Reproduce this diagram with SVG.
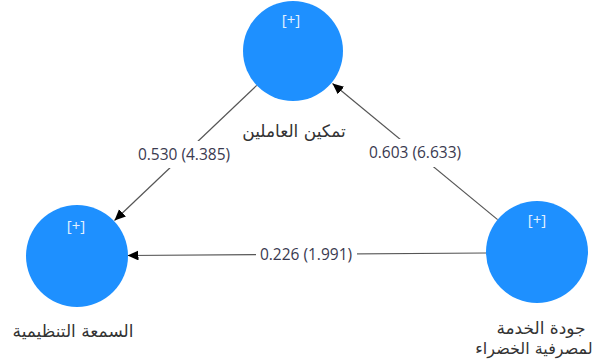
<svg xmlns="http://www.w3.org/2000/svg" width="595" height="362" viewBox="0 0 595 362">
<style>
.node{fill:#1e90ff;}
.plus{font-family:"Open Sans","DejaVu Sans",sans-serif;font-size:15px;fill:#e2f0ff;text-anchor:middle;}
.lbl{font-family:"DejaVu Sans",sans-serif;font-size:17px;fill:#333;text-anchor:middle;direction:rtl;}
.edge{stroke:#555;stroke-width:1.2;fill:none;marker-end:url(#ah);}
.elbl{font-family:"Open Sans","Liberation Sans",sans-serif;font-size:15.5px;fill:#3a3a50;text-anchor:middle;}
.bg{fill:#fff;}
</style>
<defs>
<marker id="ah" markerUnits="userSpaceOnUse" markerWidth="12" markerHeight="12" refX="11" refY="5" orient="auto">
<path d="M0,0 L11,5 L0,10 z" fill="#000"/>
</marker>
</defs>
<rect width="595" height="362" fill="#fff"/>
<g id="connectors">
<g id="e1">
<line class="edge" x1="256.7" y1="85.4" x2="114.5" y2="220.5"/>
<rect class="bg" x="135" y="141" width="98" height="27"/>
<text class="elbl" x="184" y="159.5">0.530 (4.385)</text>
</g>
<g id="e2">
<line class="edge" x1="497.6" y1="219.6" x2="332.5" y2="83.5"/>
<rect class="bg" x="365" y="139" width="99" height="28"/>
<text class="elbl" x="415" y="158">0.603 (6.633)</text>
</g>
<g id="e3">
<line class="edge" x1="486" y1="253" x2="127.5" y2="255.5"/>
<rect class="bg" x="256" y="244" width="101" height="22"/>
<text class="elbl" x="306" y="260">0.226 (1.991)</text>
</g>
</g>
<g id="node-top">
<circle class="node" cx="293" cy="51" r="50"/>
<text class="plus" x="291" y="25">[+]</text>
<text class="lbl" x="294" y="137">تمكين العاملين</text>
</g>
<g id="node-left">
<circle class="node" cx="77" cy="256" r="51"/>
<text class="plus" x="76" y="231">[+]</text>
<text class="lbl" x="73" y="337">السمعة التنظيمية</text>
</g>
<g id="node-right">
<circle class="node" cx="537" cy="252" r="51"/>
<text class="plus" x="537" y="225">[+]</text>
<text class="lbl" x="541" y="334">جودة الخدمة</text>
<text class="lbl" x="534" y="354" style="font-size:16px">لمصرفية الخضراء</text>
</g>
</svg>
